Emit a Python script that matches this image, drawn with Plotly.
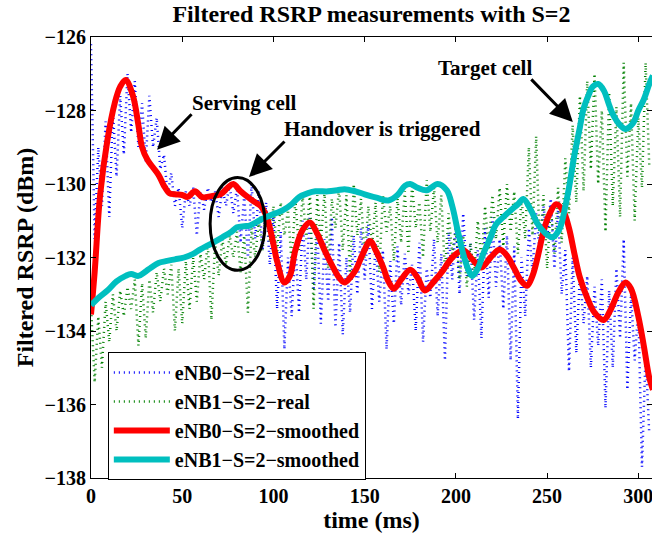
import plotly.graph_objects as go

# ---------------- data ----------------
# eNB0 real (blue dotted), sampled every 2 ms from t=0
enb0_real = [
    -126.2, -131.5, -129.0, -130.6, -128.3, -130.9, -128.0, -129.8, -127.6, -129.2,
    -127.0, -128.6, -127.2, -129.0, -127.8, -129.4, -127.6, -129.0, -128.2, -129.6,
    -129.2, -130.3, -129.7, -130.6, -130.1, -131.2, -130.2, -130.6, -130.1, -131.4,
    -130.2, -130.7, -130.1, -130.5, -130.2, -130.9, -130.1, -130.6, -130.0, -130.8,
    -130.1, -131.6, -130.3, -132.0, -130.0, -131.5, -130.2, -131.8, -130.5, -132.2,
    -130.9, -133.4, -131.3, -134.5, -132.0, -133.6, -131.6, -133.5, -131.0, -132.6,
    -130.8, -132.9, -131.2, -133.8, -131.5, -133.2, -130.9, -133.9, -131.6, -134.1,
    -132.0, -133.5, -131.4, -133.0, -131.2, -132.6, -131.1, -133.4, -131.6, -133.2,
    -131.8, -134.5, -132.1, -133.8, -131.7, -133.3, -131.9, -133.0, -132.2, -134.0,
    -131.6, -134.3, -132.3, -133.1, -131.5, -133.6, -131.9, -134.8, -131.3, -132.6,
    -131.0, -133.0, -130.8, -132.5, -131.6, -133.7, -131.8, -134.2, -131.2, -133.1,
    -130.9, -132.8, -131.5, -133.4, -131.4, -134.8, -131.7, -136.4, -132.0, -133.6,
    -131.2, -132.4, -130.8, -131.9, -130.6, -131.5, -130.4, -132.3, -130.7, -133.0,
    -131.8, -135.1, -132.0, -134.6, -132.4, -133.8, -132.5, -135.0, -132.8, -134.4,
    -132.6, -136.1, -132.9, -135.0, -132.3, -134.2, -131.5, -135.6, -133.0, -134.8,
    -133.4, -137.7, -134.6, -136.8,
]

# eNB1 real (green dotted), sampled every 2 ms from t=0
enb1_real = [
    -133.3, -135.4, -133.6, -135.0, -133.2, -134.3, -133.0, -134.0, -132.9, -133.6,
    -132.8, -133.4, -132.6, -134.4, -132.7, -134.2, -132.6, -133.5, -132.4, -133.2,
    -132.3, -133.0, -132.2, -134.0, -132.3, -133.8, -132.1, -133.4, -132.0, -133.2,
    -131.9, -132.6, -131.6, -133.7, -131.6, -132.5, -131.5, -132.2, -131.4, -132.0,
    -131.3, -132.4, -131.4, -133.5, -131.2, -132.0, -131.0, -131.8, -130.8, -131.6,
    -130.6, -131.9, -130.5, -131.4, -130.7, -132.2, -130.4, -131.8, -130.3, -131.5,
    -130.2, -133.4, -130.3, -131.6, -130.2, -132.3, -130.4, -131.2, -130.1, -131.8,
    -130.3, -132.5, -130.0, -131.4, -130.4, -132.0, -130.6, -131.7, -130.5, -132.4,
    -130.3, -131.3, -130.6, -132.1, -130.4, -131.6, -130.2, -131.9, -130.0, -131.2,
    -130.5, -132.0, -129.9, -131.3, -130.1, -131.6, -130.3, -132.4, -130.8, -131.9,
    -131.2, -132.6, -131.4, -132.8, -131.6, -132.5, -131.0, -132.1, -130.6, -131.8,
    -130.3, -131.5, -130.1, -131.7, -130.0, -131.3, -130.2, -131.9, -130.4, -131.5,
    -129.0, -131.4, -128.7, -131.8, -130.3, -132.3, -130.6, -131.9, -130.1, -131.6,
    -129.3, -130.8, -128.4, -130.5, -127.6, -130.2, -127.2, -129.6, -127.0, -130.0,
    -128.0, -131.3, -127.5, -130.6, -127.9, -130.9, -126.7, -129.8, -127.8, -131.0,
    -128.2, -130.1, -126.7, -129.5,
]
real_time = list(range(0, 2 * len(enb0_real), 2))

# eNB0 smoothed (red)
enb0_smooth_t = [0, 2, 5, 9, 13, 16, 19, 23, 26, 28, 31, 34, 37, 40, 43, 46, 50, 53, 57, 61,
                 66, 71, 75, 78, 82, 86, 90, 93, 96, 99, 102, 106, 109, 112, 116, 120, 124,
                 128, 132, 136, 139, 142, 145, 149, 153, 156, 160, 163, 166, 170, 175, 179,
                 183, 188, 193, 198, 204, 209, 214, 219, 224, 228, 232, 236, 239, 242, 245,
                 248, 251, 255, 259, 262, 265, 268, 272, 276, 281, 285, 289, 293, 296, 300,
                 303, 306, 308]
enb0_smooth = [-133.55, -132.4, -130.3, -128.8, -127.8, -127.35, -127.17, -127.6, -128.4,
               -129.0, -129.35, -129.55, -129.75, -130.05, -130.25, -130.28, -130.3, -130.35,
               -130.2, -130.36, -130.33, -130.28, -130.1, -130.0, -130.2, -130.36, -130.5,
               -130.6, -130.85, -131.4, -132.1, -132.68, -132.5, -131.8, -131.25, -131.05,
               -131.35, -131.8, -132.2, -132.55, -132.68, -132.55, -132.35, -131.9, -131.55,
               -131.8, -132.25, -132.65, -132.85, -132.6, -132.33, -132.55, -132.9, -132.65,
               -132.35, -132.0, -131.8, -132.05, -132.27, -132.0, -131.78, -131.95, -132.3,
               -132.65, -132.77, -132.5, -131.95, -131.3, -130.85, -130.55, -130.75, -131.2,
               -131.9, -132.55, -133.1, -133.5, -133.7, -133.4, -132.95, -132.68, -132.85,
               -133.6, -134.4, -135.27, -135.6]

# eNB1 smoothed (cyan)
enb1_smooth_t = [0, 4, 9, 14, 19, 22, 26, 30, 33, 37, 41, 46, 51, 56, 60, 66, 72, 77, 80, 84,
                 87, 92, 96, 101, 105, 110, 114, 119, 123, 130, 135, 139, 145, 150, 157, 163,
                 168, 172, 175, 179, 184, 190, 195, 198, 201, 204, 207, 209, 212, 215, 219,
                 222, 226, 230, 234, 237, 241, 245, 250, 253, 257, 260, 262, 265, 268, 270,
                 273, 275, 278, 281, 284, 286, 290, 293, 297, 300, 303, 306, 308]
enb1_smooth = [-133.3, -133.1, -132.9, -132.65, -132.5, -132.45, -132.5, -132.38, -132.27,
               -132.15, -132.1, -132.05, -132.0, -131.9, -131.78, -131.62, -131.45, -131.3,
               -131.18, -131.15, -131.13, -131.0, -130.9, -130.8, -130.72, -130.55, -130.36,
               -130.25, -130.2, -130.2, -130.17, -130.14, -130.2, -130.28, -130.38, -130.45,
               -130.3, -130.05, -130.0, -130.1, -130.17, -130.0, -130.17, -130.6, -131.27,
               -131.9, -132.35, -132.5, -132.3, -131.9, -131.45, -131.1, -130.9, -130.72,
               -130.55, -130.41, -130.7, -131.1, -131.38, -131.45, -131.2, -130.6, -130.1,
               -129.2, -128.45, -127.95, -127.55, -127.35, -127.28, -127.45, -127.85, -128.1,
               -128.4, -128.5, -128.35, -128.0, -127.7, -127.28, -127.05]

series_names = ["eNB0\u2212S=2\u2212real", "eNB1\u2212S=2\u2212real",
                "eNB0\u2212S=2\u2212smoothed", "eNB1\u2212S=2\u2212smoothed"]
y_ticks = [-138, -136, -134, -132, -130, -128, -126]
x_ticks = [0, 50, 100, 150, 200, 250, 300]

# ---------------- figure ----------------
FONT = "Liberation Serif"
fig = go.Figure()

fig.add_trace(go.Scatter(x=real_time, y=enb0_real, mode="lines", name=series_names[0],
                         line=dict(color="rgb(0,0,255)", width=2.5, dash="1px,4px")))
fig.add_trace(go.Scatter(x=real_time, y=enb1_real, mode="lines", name=series_names[1],
                         line=dict(color="rgb(0,128,0)", width=2.5, dash="1px,4px")))
fig.add_trace(go.Scatter(x=enb0_smooth_t, y=enb0_smooth, mode="lines", name=series_names[2],
                         line=dict(color="rgb(255,0,0)", width=6, shape="spline")))
fig.add_trace(go.Scatter(x=enb1_smooth_t, y=enb1_smooth, mode="lines", name=series_names[3],
                         line=dict(color="rgb(0,191,191)", width=6, shape="spline")))

# ellipse around the handover point
fig.add_shape(type="circle", xref="x", yref="y", x0=65.3, x1=95.4, y0=-132.35, y1=-129.82,
              line=dict(color="black", width=3))

text_font = dict(family=FONT, size=21, color="black", weight="bold")
arrow_kw = dict(showarrow=True, arrowhead=2, arrowsize=1.5, arrowwidth=3, arrowcolor="black",
                text="", xref="x", yref="y", axref="pixel", ayref="pixel")
fig.add_annotation(x=36.2, y=-129.07, ax=36, ay=-37, **arrow_kw)
fig.add_annotation(x=86.6, y=-129.81, ax=37, ay=-37, **arrow_kw)
fig.add_annotation(x=264.1, y=-128.31, ax=-43, ay=-44, **arrow_kw)

fig.add_annotation(x=84.4, y=-127.8, text="Serving cell", showarrow=False, font=text_font,
                   xref="x", yref="y")
fig.add_annotation(x=160, y=-128.5, text="Handover is triggered", showarrow=False,
                   font=text_font, xref="x", yref="y")
fig.add_annotation(x=215.9, y=-126.84, text="Target cell", showarrow=False, font=text_font,
                   xref="x", yref="y")

axis_common = dict(showline=True, linecolor="black", linewidth=1, mirror="ticks",
                   ticks="inside", ticklen=5, tickcolor="black", showgrid=False,
                   zeroline=False, ticklabeloverflow="allow",
                   tickfont=dict(family=FONT, size=20, color="black", weight="bold"))

fig.update_xaxes(range=[0, 307.5], tickvals=x_ticks,
                 title=dict(text="time (ms)", standoff=0,
                            font=dict(family=FONT, size=24, color="black", weight="bold")),
                 **axis_common)
fig.update_yaxes(range=[-138, -126], tickvals=y_ticks,
                 title=dict(text="Filtered RSRP (dBm)", standoff=4,
                            font=dict(family=FONT, size=24, color="black", weight="bold")),
                 **axis_common)

fig.update_layout(
    width=652, height=540,
    margin=dict(l=91, r=0, t=37, b=62),
    paper_bgcolor="white", plot_bgcolor="white",
    title=dict(text="Filtered RSRP measurements with S=2", x=0.5, xref="paper",
               y=1 - 14 / 540, yanchor="middle",
               font=dict(family=FONT, size=24, color="black", weight="bold")),
    legend=dict(x=0.03, y=0.2857, xanchor="left", yanchor="top",
                bordercolor="black", borderwidth=1, bgcolor="white",
                itemwidth=56, tracegroupgap=0,
                font=dict(family=FONT, size=20, color="black", weight="bold")),
    showlegend=True,
)

fig.write_html("out.html", config={"displayModeBar": False},
               post_script="document.body.style.margin='0';document.body.style.overflow='hidden';")
